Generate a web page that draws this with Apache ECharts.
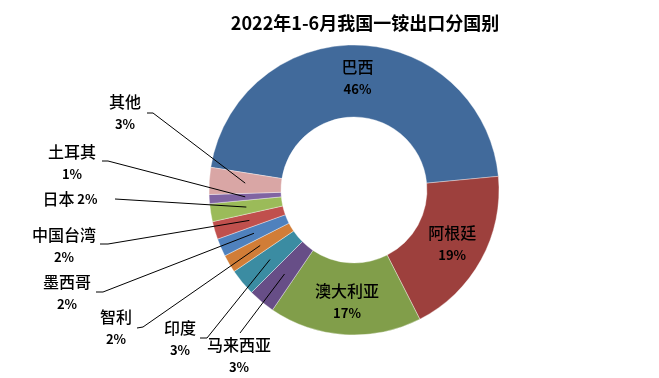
<!DOCTYPE html>
<html>
<head>
<meta charset="utf-8">
<script src="https://cdn.jsdelivr.net/npm/echarts@6/dist/echarts.min.js"></script>
<style>
  html, body { margin: 0; padding: 0; background: #fff; }
  #chart { width: 659px; height: 378px; }
</style>
</head>
<body>
<div id="chart"></div>
<script>
// data
var countries = ['巴西', '阿根廷', '澳大利亚', '马来西亚', '印度', '智利', '墨西哥', '中国台湾', '日本', '土耳其', '其他']
var shares = [46, 19, 17, 3, 3, 2, 2, 2, 2, 1, 3]
var colors = ['#416A9B', '#9D403D', '#819E4A', '#674E87', '#3B8CA2', '#D17D37',
  '#4F81BD', '#C0504D', '#9BBB59', '#8064A2', '#D9A6A5']

// layout
var CX = 354, CY = 190, R0 = 73, R1 = 145, START = 171
// outside label centres, leader line start and bend (null for inside labels)
var labelAt = [null, null, null, [239, 356], [180, 339], [116, 328], [67, 293], [64, 246], [70, 199], [72, 163], [125, 113]]
var lineFrom = [null, null, null, [240, 333], [200, 338], [137, 328], [96, 292], [100, 244], [115, 199], [102, 161], [147, 113]]
var lineBend = [null, null, null, [240, 333], [207, 338], [143, 327], [103, 292], [108, 244], [115, 199], [108, 161], [153, 113]]

var total = shares.reduce(function (a, b) { return a + b }, 0)
function midAngle(i) {
  var before = 0
  for (var k = 0; k < i; k++) before += shares[k]
  var deg = START - (before + shares[i] / 2) / total * 360
  return deg * Math.PI / 180
}

var chart = echarts.init(document.getElementById('chart'))
var base = {
  type: 'pie',
  center: [CX, CY],
  radius: [R0, R1],
  startAngle: START,
  clockwise: true,
  avoidLabelOverlap: false,
}
var option = {
  backgroundColor: '#fff',
  animation: false,
  title: {
    text: '2022年1-6月我国一铵出口分国别',
    left: 360,
    top: 9,
    textAlign: 'center',
    textStyle: { fontFamily: 'Noto Sans CJK SC', fontSize: 18, fontWeight: 'bold', color: '#000' },
  },
  series: [
    // coloured ring
    Object.assign({}, base, {
      z: 2,
      silent: true,
      itemStyle: { borderColor: 'rgba(255,255,255,0.6)', borderWidth: 0.6 },
      label: { show: false },
      labelLine: { show: false },
      data: countries.map(function (c, i) {
        return { name: c, value: shares[i], itemStyle: { color: colors[i] } }
      }),
    }),
    // labels and leader lines on top
    Object.assign({}, base, {
      z: 3,
      itemStyle: { color: 'rgba(0,0,0,0)' },
      emphasis: { disabled: true },
      labelLine: { show: true, lineStyle: { color: '#000', width: 1 } },
      label: {
        color: '#000',
        fontFamily: 'Noto Sans CJK SC',
        formatter: function (p) {
          if (p.name === '日本') return '{n|' + p.name + '} {p|' + p.value + '%}'
          return '{n|' + p.name + '}\n{p|' + p.value + '%}'
        },
        rich: {
          n: { fontSize: 16, fontWeight: 500, color: '#000', fontFamily: 'Noto Sans CJK SC', lineHeight: 22 },
          p: { fontSize: 13, fontWeight: 'bold', color: '#000', fontFamily: 'Noto Sans CJK SC', lineHeight: 22 },
        },
      },
      labelLayout: function (params) {
        var i = params.dataIndex
        if (!labelAt[i]) return {}
        var a = midAngle(i)
        var r = (R0 + R1) / 2
        var sx = CX + r * Math.cos(a)
        var sy = CY - r * Math.sin(a)
        return {
          x: labelAt[i][0],
          y: labelAt[i][1],
          align: 'center',
          verticalAlign: 'middle',
          labelLinePoints: [[sx, sy], lineBend[i], lineFrom[i]],
        }
      },
      data: countries.map(function (c, i) {
        return {
          name: c,
          value: shares[i],
          label: { position: labelAt[i] ? 'outside' : 'inside' },
          labelLine: { show: !!labelAt[i] },
        }
      }),
    }),
  ],
}
chart.setOption(option)
</script>
</body>
</html>
